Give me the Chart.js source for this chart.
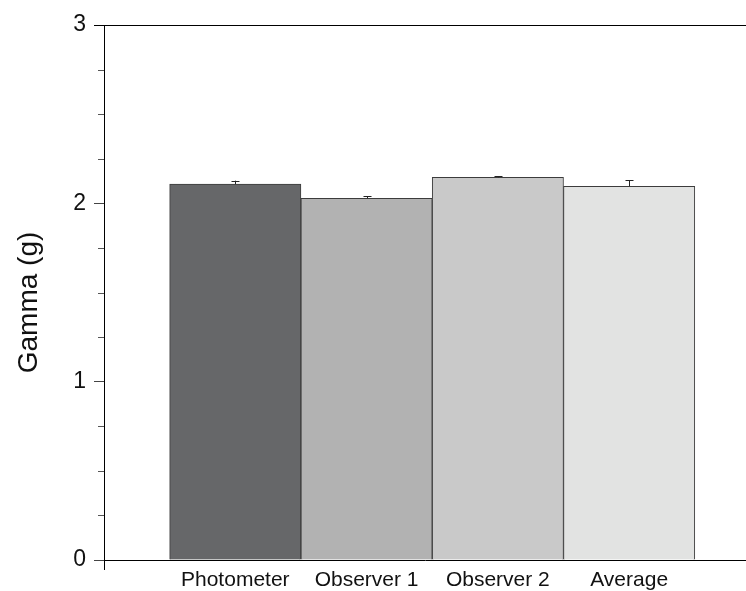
<!DOCTYPE html>
<html>
<head>
<meta charset="utf-8">
<script src="https://cdn.jsdelivr.net/npm/chart.js@4/dist/chart.umd.min.js"></script>
<style>
  body { margin: 0; background: #fff; }
  #wrap { width: 746px; height: 591px; }
</style>
</head>
<body>
<div id="wrap"><canvas id="gammaChart" width="746" height="591"></canvas></div>
<script>
var categories = ["Photometer", "Observer 1", "Observer 2", "Average"];
var gammaValues = [2.108, 2.028, 2.146, 2.096];
var gammaErrors = [0.019, 0.013, 0.007, 0.033];
var barColors = ["#666769", "#b2b2b2", "#c9c9c9", "#e2e3e2"];
var yTicks = [0, 1, 2, 3];
var yMinorStep = 0.25;
var yTitle = "Gamma (g)";

var fontFamily = "'Liberation Sans', Arial, Helvetica, sans-serif";

// error bars (upper only) + minor ticks + frame lines + axis title
var extrasPlugin = {
  id: "extras",
  afterDraw: function (chart) {
    var ctx = chart.ctx;
    var area = chart.chartArea;
    var y = chart.scales.y;
    ctx.save();

    // top frame line, extends out like a major tick
    ctx.strokeStyle = "#000";
    ctx.lineWidth = 1;
    ctx.beginPath();
    ctx.moveTo(area.left - 10, area.top + 0.5);
    ctx.lineTo(area.right, area.top + 0.5);
    ctx.stroke();

    // y axis runs a bit below zero
    ctx.beginPath();
    ctx.moveTo(area.left + 0.5, area.bottom);
    ctx.lineTo(area.left + 0.5, area.bottom + 10);
    ctx.stroke();

    // minor ticks
    ctx.strokeStyle = "#555";
    for (var v = y.min; v <= y.max + 1e-9; v += yMinorStep) {
      if (Math.abs(v - Math.round(v)) < 1e-9) continue;
      var py = Math.round(y.getPixelForValue(v)) + 0.5;
      ctx.beginPath();
      ctx.moveTo(area.left - 6, py);
      ctx.lineTo(area.left, py);
      ctx.stroke();
    }

    // error bars
    var meta = chart.getDatasetMeta(0);
    ctx.strokeStyle = "#222";
    meta.data.forEach(function (bar, i) {
      var top = y.getPixelForValue(gammaValues[i] + gammaErrors[i]);
      var bx = Math.round(bar.x) + 0.5;
      ctx.beginPath();
      ctx.moveTo(bx, bar.y);
      ctx.lineTo(bx, top);
      ctx.moveTo(bx - 4, Math.round(top) + 0.5);
      ctx.lineTo(bx + 4, Math.round(top) + 0.5);
      ctx.stroke();
    });

    // y axis title, sits a little below the middle in the original
    ctx.fillStyle = "#111";
    ctx.font = "28px " + fontFamily;
    ctx.textAlign = "center";
    ctx.textBaseline = "alphabetic";
    ctx.translate(37, (area.top + area.bottom) / 2 + 10);
    ctx.rotate(-Math.PI / 2);
    ctx.fillText(yTitle, 0, 0);
    ctx.restore();
  }
};

var ctx = document.getElementById("gammaChart").getContext("2d");
var gammaChart = new Chart(ctx, {
  type: "bar",
  data: {
    datasets: [
      {
        data: gammaValues.map(function (v, i) { return { x: i, y: v }; }),
        backgroundColor: barColors,
        borderColor: "#3c3c3c",
        borderWidth: 1,
        barPercentage: 1,
        categoryPercentage: 1
      }
    ]
  },
  plugins: [extrasPlugin],
  options: {
    responsive: false,
    animation: false,
    layout: { padding: { top: 25, right: 0, left: 0, bottom: 0 } },
    plugins: {
      legend: { display: false },
      tooltip: { enabled: false }
    },
    scales: {
      x: {
        type: "linear",
        offset: false,
        min: -1,
        max: 3.89,
        afterBuildTicks: function (scale) {
          scale.ticks = categories.map(function (c, i) { return { value: i }; });
        },
        afterFit: function (scale) { scale.height = 31; },
        grid: { display: false, drawTicks: false, offset: false },
        border: { display: true, color: "#000", width: 1 },
        ticks: {
          padding: 8,
          color: "#111",
          font: { family: fontFamily, size: 21 },
          callback: function (value) { return categories[value]; }
        }
      },
      y: {
        min: 0,
        max: 3,
        afterBuildTicks: function (scale) {
          scale.ticks = yTicks.map(function (v) { return { value: v }; });
        },
        afterFit: function (scale) { scale.width = 104; },
        grid: { drawOnChartArea: false, drawTicks: true, tickLength: 10, color: "#444" },
        border: { display: true, color: "#000", width: 1 },
        ticks: {
          padding: 8,
          color: "#111",
          font: { family: fontFamily, size: 23 }
        }
      }
    }
  }
});
</script>
</body>
</html>
